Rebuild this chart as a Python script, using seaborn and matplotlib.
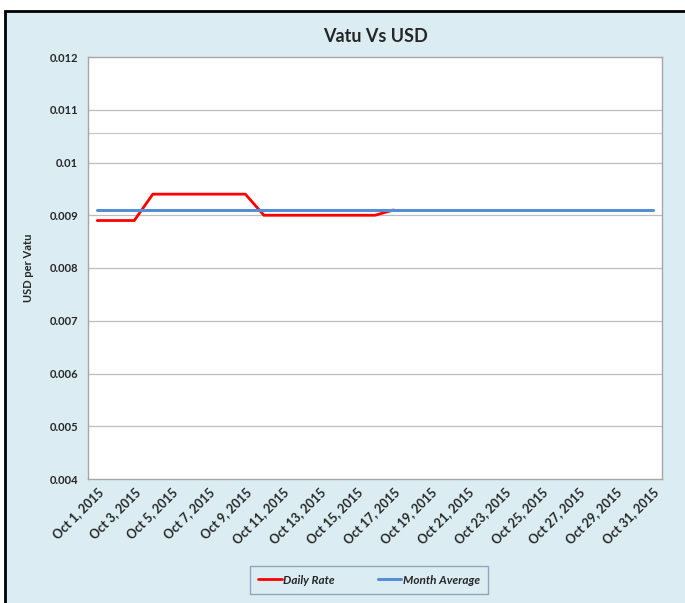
import numpy as np
import pandas as pd
import matplotlib.pyplot as plt
import matplotlib.patches as patches
import seaborn as sns

# data
days = list(range(1, 32))
daily_days = list(range(1, 18))
daily_rate = [0.0089, 0.0089, 0.0089, 0.0094, 0.0094, 0.0094, 0.0094, 0.0094, 0.0094,
              0.0090, 0.0090, 0.0090, 0.0090, 0.0090, 0.0090, 0.0090, 0.0091]
month_avg = [0.0091] * 31
tick_labels = ["Oct %d, 2015" % d for d in range(1, 32, 2)]
y_ticks = [0.004, 0.005, 0.006, 0.007, 0.008, 0.009, 0.01, 0.011, 0.012]
y_tick_labels = ["0.004", "0.005", "0.006", "0.007", "0.008", "0.009", "0.01", "0.011", "0.012"]

sns.set_style("white")
plt.rcParams['font.family'] = ['Lato', 'DejaVu Sans']

bg = "#dbedf3"
fig = plt.figure(figsize=(6.85, 6.03), dpi=100)
fig.patch.set_facecolor("white")
# chart area frame
frame = patches.Rectangle((5 / 685, -0.01), 1.0, 1 - 11 / 603 + 0.01, transform=fig.transFigure,
                          facecolor=bg, edgecolor="black", linewidth=2, zorder=-5)
fig.patches.append(frame)

ax = fig.add_axes([88 / 685, 1 - 479 / 603, 574 / 685, 422 / 603])
ax.set_facecolor("white")

df_daily = pd.DataFrame({"x": [d - 1 for d in daily_days], "y": daily_rate})
df_avg = pd.DataFrame({"x": [d - 1 for d in days], "y": month_avg})

sns.lineplot(data=df_daily, x="x", y="y", ax=ax, color="#ff0000", linewidth=2.0,
             label="Daily Rate", zorder=3)
sns.lineplot(data=df_avg, x="x", y="y", ax=ax, color="#558ed5", linewidth=2.2,
             label="Month Average", zorder=4)

ax.set_xlim(-0.5, 30.5)
ax.set_ylim(0.004, 0.012)
ax.set_yticks(y_ticks)
ax.set_yticklabels(y_tick_labels, fontsize=8, fontweight="bold")
ax.set_xticks(list(range(0, 31, 2)))
ax.set_xticklabels(tick_labels, rotation=45, ha="right", rotation_mode="anchor",
                   fontsize=9, fontweight="bold")
ax.tick_params(axis="y", length=0, pad=7)
ax.tick_params(axis="x", length=0, pad=5)
for y in y_ticks[1:-1]:
    ax.axhline(y, color="#bdbdbd", linewidth=0.9, zorder=1)
ax.axhline(0.01056, color="#c8c8c8", linewidth=0.9, zorder=1)
for s in ax.spines.values():
    s.set_color("#a6a6a6")
    s.set_linewidth(1.0)

ax.set_xlabel("")
ax.set_ylabel("USD per Vatu", fontsize=8, fontweight="bold", labelpad=11)
ax.set_title("Vatu Vs USD", fontsize=13, fontweight="bold", pad=11)

leg = ax.legend(loc="center", bbox_to_anchor=(369 / 685, 1 - 580 / 603),
                bbox_transform=fig.transFigure, ncol=2, frameon=True, fancybox=False,
                prop={"size": 8.5, "weight": "bold", "style": "italic"},
                handlelength=2.0, handletextpad=0.15, columnspacing=3.6,
                borderpad=0.7, borderaxespad=0)
leg.get_frame().set_edgecolor("#8093b0")
leg.get_frame().set_facecolor(bg)
leg.get_frame().set_linewidth(1.0)

fig.savefig("out.png", dpi=100, facecolor=fig.get_facecolor())
